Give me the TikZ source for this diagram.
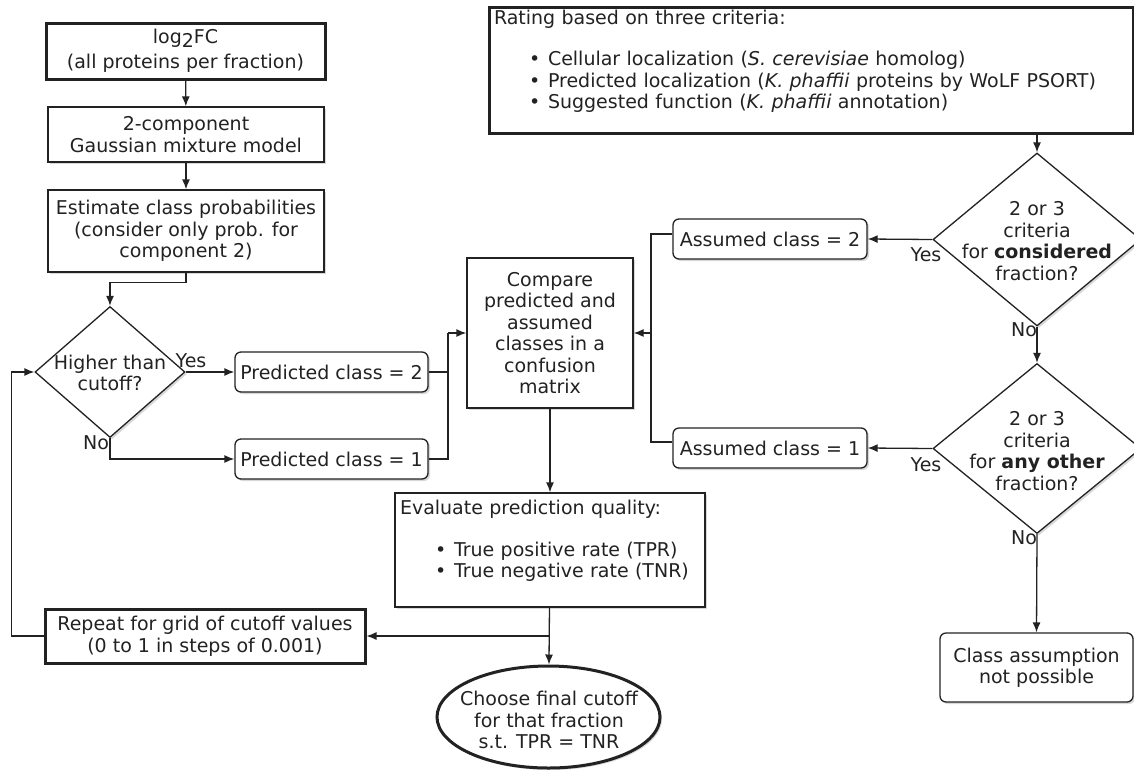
\documentclass[tikz,border=0pt]{standalone}
\usepackage{fontspec}
\setmainfont{DejaVu Sans}
\usetikzlibrary{shapes.geometric,arrows.meta,shadows}
\definecolor{ink}{HTML}{222222}
\begin{document}
\begin{tikzpicture}[x=1pt,y=-1pt,
  every node/.style={font=\fontsize{19}{21.5}\selectfont, text=ink},
  base/.style={draw=ink, line width=1.3pt, fill=white,
    drop shadow={shadow xshift=2pt,shadow yshift=-2pt,fill=black!30},
    align=center, inner sep=0pt},
  box/.style={base, rectangle},
  thickbox/.style={box, line width=3pt},
  rbox/.style={base, rectangle, rounded corners=6pt},
  dia/.style={base, diamond},
  ell/.style={base, ellipse, line width=3pt},
  lbl/.style={inner sep=0pt, align=center},
  ln/.style={draw=ink, line width=1.3pt},
  arr/.style={ln, -{Latex[length=10pt,width=8pt]}}]
\useasboundingbox (0,0) rectangle (1134,769);
\fill[white] (0,0) rectangle (1134,769);

% left column
\node[thickbox, minimum width=279, minimum height=56] (log) at (185.5,51)
  {log\raisebox{-4pt}{2}FC\\[4pt](all proteins per fraction)};
\node[box, minimum width=276, minimum height=55] (gmm) at (186,134.5)
  {2-component\\Gaussian mixture model};
\node[box, minimum width=276, minimum height=82] (est) at (186,231)
  {Estimate class probabilities\\(consider only prob. for\\component 2)};
\node[dia, minimum width=150, minimum height=131] (d1) at (110,372) {};
\node[lbl] (d1t) at (110,373) {Higher than\\cutoff?};
\node[rbox, minimum width=193, minimum height=40] (pc2) at (331.5,372) {Predicted class = 2};
\node[rbox, minimum width=193, minimum height=40] (pc1) at (331.5,459) {Predicted class = 1};

% middle
\node[box, minimum width=166, minimum height=150] (cmp) at (550,333)
  {Compare\\predicted and\\assumed\\classes in a\\confusion\\matrix};
\node[box, minimum width=310, minimum height=114, text width=300, align=left] (eval) at (550,550)
  {Evaluate prediction quality:\\[20pt]
   \hspace*{35pt}\makebox[19pt][l]{•}True positive rate (TPR)\\
   \hspace*{35pt}\makebox[19pt][l]{•}True negative rate (TNR)\\ \mbox{}};
\node[thickbox, minimum width=320, minimum height=54] (rep) at (205,636)
  {Repeat for grid of cutoff values\\(0 to 1 in steps of 0.001)};
\node[ell, minimum width=223, minimum height=102] (ell) at (548.5,717) {};
\node[lbl] (ellt) at (549,720) {Choose final cutoff\\for that fraction\\s.t. TPR = TNR};

% right column
\node[thickbox, minimum width=644, minimum height=126, text width=634, align=left] (top) at (811,70)
  {Rating based on three criteria:\\[20pt]
   \hspace*{35pt}\makebox[19pt][l]{•}Cellular localization (\textit{S. cerevisiae} homolog)\\
   \hspace*{35pt}\makebox[19pt][l]{•}Predicted localization (\textit{K. phaffii} proteins by WoLF PSORT)\\
   \hspace*{35pt}\makebox[19pt][l]{•}Suggested function (\textit{K. phaffii} annotation)\\ \mbox{}};
\node[dia, minimum width=208, minimum height=173] (d2) at (1037,239.5) {};
\node[lbl] (d2t) at (1037,241) {2 or 3\\criteria\\for \textbf{considered}\\fraction?};
\node[dia, minimum width=208, minimum height=170] (d3) at (1037,448.5) {};
\node[lbl] (d3t) at (1037,451) {2 or 3\\criteria\\for \textbf{any other}\\fraction?};
\node[rbox, minimum width=194, minimum height=40] (ac2) at (770,239) {Assumed class = 2};
\node[rbox, minimum width=194, minimum height=40] (ac1) at (770,448) {Assumed class = 1};
\node[rbox, minimum width=193, minimum height=69] (cap) at (1036.5,667.5) {Class assumption\\not possible};

% labels
\node[lbl] (y1) at (191,361) {Yes};
\node[lbl] (n1) at (96,443) {No};
\node[lbl] (y2) at (926,255) {Yes};
\node[lbl] (n2) at (1024,330) {No};
\node[lbl] (y3) at (926,465) {Yes};
\node[lbl] (n3) at (1024,538) {No};

% coordinates
\coordinate (jl) at (448,333);
\coordinate (jr) at (651,333);
\coordinate (je) at (550,636);

% connectors
\draw[arr] (log) -- (gmm);
\draw[arr] (gmm) -- (est);
\draw[arr] (est.south) -- ++(0,10) -| (d1.north);
\draw[arr] (d1.east) -- (pc2.west);
\draw[arr] (d1.south) |- (pc1.west);
\draw[ln] (pc2.east) -| (jl);
\draw[ln] (pc1.east) -| (jl);
\draw[arr] (jl) -- (cmp.west);
\draw[ln] ([yshift=5pt]ac2.west) -| (jr);
\draw[ln] ([yshift=6pt]ac1.west) -| (jr);
\draw[arr] (jr) -- (cmp.east);
\draw[arr] (top.south -| d2.north) -- (d2.north);
\draw[arr] (d2.west) -- (ac2.east);
\draw[arr] (d2.south) -- (d3.north);
\draw[arr] (d3.west) -- (ac1.east);
\draw[arr] (d3.south) -- (cap.north);
\draw[arr] (cmp) -- (eval);
\draw[arr] (eval) -- (ell);
\draw[arr] (je) -- (rep.east);
\draw[arr] (rep.west) -- ++(-32,0) |- (d1.west);
\end{tikzpicture}
\end{document}
